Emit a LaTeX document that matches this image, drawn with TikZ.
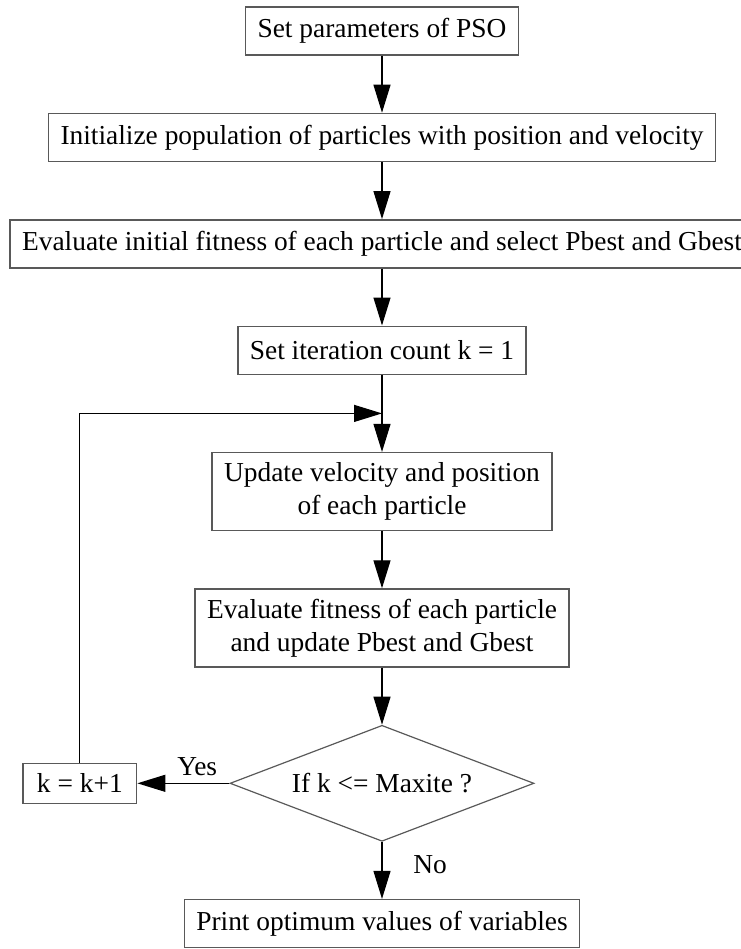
\documentclass[tikz,border=0pt]{standalone}
\usepackage{fontspec}
\setmainfont{Liberation Serif}
\usetikzlibrary{shapes.geometric, arrows.meta, positioning}

\begin{document}
\begin{tikzpicture}[
	node distance = 28.5pt,
	txt/.style = {font=\fontsize{13.7pt}{16.5pt}\selectfont},
	box/.style = {txt, draw=black!65, line width=0.7pt, minimum height=24pt, inner xsep=6pt, align=center},
	tallbox/.style = {box, minimum height=39pt},
	test/.style = {txt, diamond, aspect=2.62, draw=black!65, line width=0.6pt, minimum width=152pt, minimum height=58pt, inner sep=0pt},
	flow/.style = {-{Triangle[length=14pt, width=8.5pt]}, line width=0.6pt}
]
	\useasboundingbox (0,0) rectangle (370pt,-474.5pt);

	\node (param) [box] at (191pt,-15.5pt) {Set parameters of PSO};
	\node (init) [box, below = of param] {Initialize population of particles with position and velocity};
	\node (eval0) [box, below = of init] {Evaluate initial fitness of each particle and select Pbest and Gbest};
	\node (iter) [box, below = of eval0] {Set iteration count k = 1};
	\node (upd) [tallbox, below = 38.5pt of iter] {Update velocity and position\\of each particle};
	\node (eval) [tallbox, below = of upd] {Evaluate fitness of each particle\\and update Pbest and Gbest};
	\node (check) [test, below = of eval] {If k <= Maxite ?};
	\node (kinc) [box, left = 46pt of check, minimum height=20pt, inner xsep=7pt] {k = k+1};
	\node (print) [box, below = of check] {Print optimum values of variables};

	\path (iter) -- coordinate (join) (upd);

	\path [flow]
		(param) edge (init)
		(init) edge (eval0)
		(eval0) edge (iter)
		(iter) edge (upd)
		(upd) edge (eval)
		(eval) edge (check)
		(check) edge node [txt, above, pos=0.35] {Yes} (kinc)
		(check) edge node [txt, right=12pt, pos=0.4] {No} (print);

	\draw [flow] (kinc) |- (join);
\end{tikzpicture}
\end{document}
